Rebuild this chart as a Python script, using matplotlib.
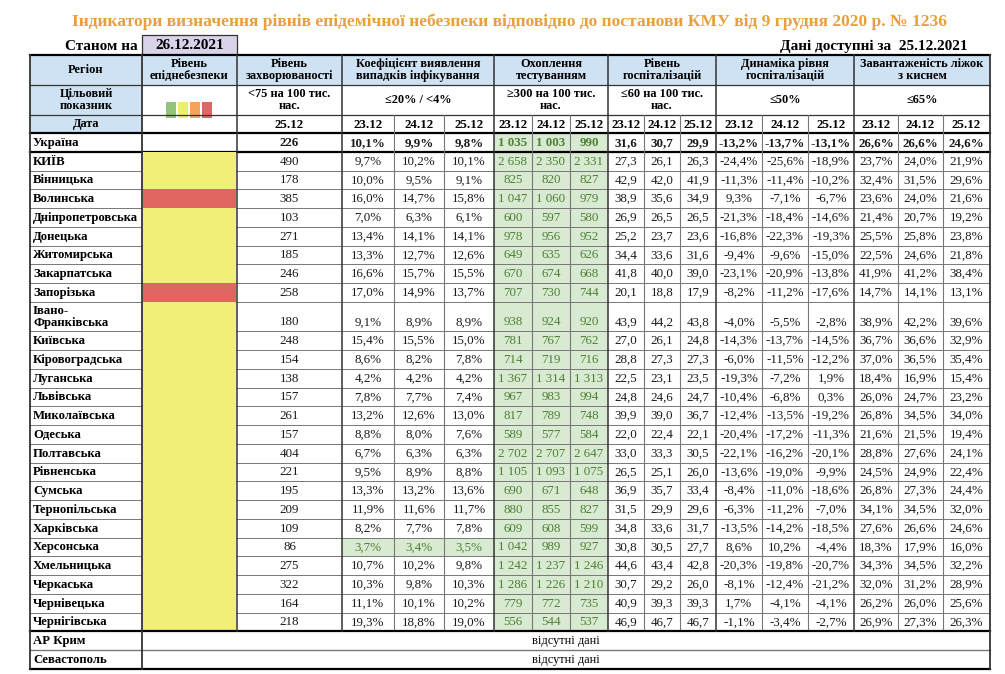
import matplotlib
matplotlib.use("Agg")
import matplotlib.pyplot as plt
from matplotlib.patches import Rectangle

plt.rcParams['font.family'] = ['Liberation Serif', 'DejaVu Serif']

regions = ["Україна", "КИЇВ", "Вінницька", "Волинська", "Дніпропетровська", "Донецька",
           "Житомирська", "Закарпатська", "Запорізька", "Івано-\nФранківська", "Київська",
           "Кіровоградська", "Луганська", "Львівська", "Миколаївська", "Одеська", "Полтавська",
           "Рівненська", "Сумська", "Тернопільська", "Харківська", "Херсонська", "Хмельницька",
           "Черкаська", "Чернівецька", "Чернігівська"]
danger = [None, "y", "y", "r", "y", "y", "y", "y", "r", "y", "y", "y", "y", "y", "y", "y",
          "y", "y", "y", "y", "y", "y", "y", "y", "y", "y"]
incidence = [226, 490, 178, 385, 103, 271, 185, 246, 258, 180, 248, 154, 138, 157, 261, 157,
             404, 221, 195, 209, 109, 86, 275, 322, 164, 218]
detect = [[10.1, 9.9, 9.8], [9.7, 10.2, 10.1], [10.0, 9.5, 9.1], [16.0, 14.7, 15.8],
          [7.0, 6.3, 6.1], [13.4, 14.1, 14.1], [13.3, 12.7, 12.6], [16.6, 15.7, 15.5],
          [17.0, 14.9, 13.7], [9.1, 8.9, 8.9], [15.4, 15.5, 15.0], [8.6, 8.2, 7.8],
          [4.2, 4.2, 4.2], [7.8, 7.7, 7.4], [13.2, 12.6, 13.0], [8.8, 8.0, 7.6],
          [6.7, 6.3, 6.3], [9.5, 8.9, 8.8], [13.3, 13.2, 13.6], [11.9, 11.6, 11.7],
          [8.2, 7.7, 7.8], [3.7, 3.4, 3.5], [10.7, 10.2, 9.8], [10.3, 9.8, 10.3],
          [11.1, 10.1, 10.2], [19.3, 18.8, 19.0]]
testing = [[1035, 1003, 990], [2658, 2350, 2331], [825, 820, 827], [1047, 1060, 979],
           [600, 597, 580], [978, 956, 952], [649, 635, 626], [670, 674, 668],
           [707, 730, 744], [938, 924, 920], [781, 767, 762], [714, 719, 716],
           [1367, 1314, 1313], [967, 983, 994], [817, 789, 748], [589, 577, 584],
           [2702, 2707, 2647], [1105, 1093, 1075], [690, 671, 648], [880, 855, 827],
           [609, 608, 599], [1042, 989, 927], [1242, 1237, 1246], [1286, 1226, 1210],
           [779, 772, 735], [556, 544, 537]]
hosp = [[31.6, 30.7, 29.9], [27.3, 26.1, 26.3], [42.9, 42.0, 41.9], [38.9, 35.6, 34.9],
        [26.9, 26.5, 26.5], [25.2, 23.7, 23.6], [34.4, 33.6, 31.6], [41.8, 40.0, 39.0],
        [20.1, 18.8, 17.9], [43.9, 44.2, 43.8], [27.0, 26.1, 24.8], [28.8, 27.3, 27.3],
        [22.5, 23.1, 23.5], [24.8, 24.6, 24.7], [39.9, 39.0, 36.7], [22.0, 22.4, 22.1],
        [33.0, 33.3, 30.5], [26.5, 25.1, 26.0], [36.9, 35.7, 33.4], [31.5, 29.9, 29.6],
        [34.8, 33.6, 31.7], [30.8, 30.5, 27.7], [44.6, 43.4, 42.8], [30.7, 29.2, 26.0],
        [40.9, 39.3, 39.3], [46.9, 46.7, 46.7]]
dynamics = [[-13.2, -13.7, -13.1], [-24.4, -25.6, -18.9], [-11.3, -11.4, -10.2],
            [9.3, -7.1, -6.7], [-21.3, -18.4, -14.6], [-16.8, -22.3, -19.3],
            [-9.4, -9.6, -15.0], [-23.1, -20.9, -13.8], [-8.2, -11.2, -17.6],
            [-4.0, -5.5, -2.8], [-14.3, -13.7, -14.5], [-6.0, -11.5, -12.2],
            [-19.3, -7.2, 1.9], [-10.4, -6.8, 0.3], [-12.4, -13.5, -19.2],
            [-20.4, -17.2, -11.3], [-22.1, -16.2, -20.1], [-13.6, -19.0, -9.9],
            [-8.4, -11.0, -18.6], [-6.3, -11.2, -7.0], [-13.5, -14.2, -18.5],
            [8.6, 10.2, -4.4], [-20.3, -19.8, -20.7], [-8.1, -12.4, -21.2],
            [1.7, -4.1, -4.1], [-1.1, -3.4, -2.7]]
beds = [[26.6, 26.6, 24.6], [23.7, 24.0, 21.9], [32.4, 31.5, 29.6], [23.6, 24.0, 21.6],
        [21.4, 20.7, 19.2], [25.5, 25.8, 23.8], [22.5, 24.6, 21.8], [41.9, 41.2, 38.4],
        [14.7, 14.1, 13.1], [38.9, 42.2, 39.6], [36.7, 36.6, 32.9], [37.0, 36.5, 35.4],
        [18.4, 16.9, 15.4], [26.0, 24.7, 23.2], [26.8, 34.5, 34.0], [21.6, 21.5, 19.4],
        [28.8, 27.6, 24.1], [24.5, 24.9, 22.4], [26.8, 27.3, 24.4], [34.1, 34.5, 32.0],
        [27.6, 26.6, 24.6], [18.3, 17.9, 16.0], [34.3, 34.5, 32.2], [32.0, 31.2, 28.9],
        [26.2, 26.0, 25.6], [26.9, 27.3, 26.3]]
missing = ["АР Крим", "Севастополь"]
dates = ["23.12", "24.12", "25.12"]

groups = ["Рівень\nзахворюваності", "Коефіцієнт виявлення\nвипадків інфікування",
          "Охоплення\nтестуванням", "Рівень\nгоспіталізацій", "Динаміка рівня\nгоспіталізацій",
          "Завантаженість ліжок\nз киснем"]
targets = ["<75 на 100 тис.\nнас.", "≤20% / <4%", "≥300 на 100 тис.\nнас.",
           "≤60 на 100 тис.\nнас.", "≤50%", "≤65%"]


def pct(v):
    return f"{v:.1f}".replace('.', ',') + '%'


def dec(v):
    return f"{v:.1f}".replace('.', ',')


def thou(v):
    return f"{v:,}".replace(',', ' ')


# layout (pixels)
col_x = [30, 142, 237, 342, 394, 444, 494, 532, 570, 608, 644, 680, 716, 762, 808,
         854, 898, 943, 990]
group_x = [237, 342, 494, 608, 716, 854, 990]
row_h = 18.75
fs = 8.9       # header text
fd = 9.4       # data text
DARK = '#333333'
GRID = '#777777'
BLUE = '#cfe2f3'
GREEN = '#d9ead3'
GREEN_TXT = '#4f7f35'
fills = {"y": '#f2ef78', "r": '#e26660'}

fig = plt.figure(figsize=(10.05, 6.74), dpi=100)
ax = fig.add_axes([0, 0, 1, 1])
ax.set_xlim(0, 1005)
ax.set_ylim(674, 0)
ax.axis('off')

# title and top line
ax.text(509, 22, "Індикатори визначення рівнів епідемічної небезпеки відповідно до постанови "
        "КМУ від 9 грудня 2020 р. № 1236", ha='center', va='center', fontsize=12.6,
        fontweight='bold', color='#e8a03c')
ax.text(138, 46, "Станом на", ha='right', va='center', fontsize=11, fontweight='bold')
ax.add_patch(Rectangle((142, 35), 95, 20, facecolor='#d9d2e9', edgecolor=DARK, lw=0.9))
ax.text(189.5, 45.5, "26.12.2021", ha='center', va='center', fontsize=11, fontweight='bold')
ax.text(968, 46, "Дані доступні за  25.12.2021", ha='right', va='center', fontsize=11,
        fontweight='bold')

# header backgrounds
ax.add_patch(Rectangle((30, 55), 960, 30, facecolor=BLUE, lw=0))
ax.add_patch(Rectangle((30, 85), 112, 48, facecolor=BLUE, lw=0))

ax.text(86, 70, "Регіон", ha='center', va='center', fontsize=fs, fontweight='bold')
ax.text(189.5, 70, "Рівень\nепіднебезпеки", ha='center', va='center', fontsize=fs,
        fontweight='bold', linespacing=1.0)
ax.text(86, 100, "Цільовий\nпоказник", ha='center', va='center', fontsize=fs,
        fontweight='bold', linespacing=1.1)
ax.text(86, 124.5, "Дата", ha='center', va='center', fontsize=fs, fontweight='bold')
for i, swatch in enumerate(['#93c47d', '#eeee6e', '#f5a35c', '#e06666']):
    ax.add_patch(Rectangle((166 + i * 12, 102), 10, 16, facecolor=swatch, lw=0))

for g in range(len(groups)):
    xc = (group_x[g] + group_x[g + 1]) / 2
    ax.text(xc, 70, groups[g], ha='center', va='center', fontsize=fs, fontweight='bold',
            linespacing=1.0)
    ax.text(xc, 100, targets[g], ha='center', va='center', fontsize=fs, fontweight='bold',
            linespacing=1.1)
ax.text((237 + 342) / 2, 124.5, "25.12", ha='center', va='center', fontsize=fd,
        fontweight='bold')
for c in range(3, 18):
    ax.text((col_x[c] + col_x[c + 1]) / 2, 124.5, dates[(c - 3) % 3], ha='center',
            va='center', fontsize=fd, fontweight='bold')

# data rows
y = 133
row_edges = [y]
for i, name in enumerate(regions):
    h = 29.5 if "\n" in name else row_h
    y0, y1 = y, y + h
    yt = y1 - row_h / 2 if "\n" in name else (y0 + y1) / 2
    w = 'bold' if i == 0 else 'normal'
    ax.text(33, (y0 + y1) / 2 + 0.5, name, ha='left', va='center', fontsize=9.2,
            fontweight='bold', linespacing=1.0)
    if danger[i]:
        ax.add_patch(Rectangle((col_x[1] + 0.6, y0), col_x[2] - col_x[1] - 1.2, h,
                               facecolor=fills[danger[i]], lw=0, zorder=3))
    cells = [thou(incidence[i])] + [pct(v) for v in detect[i]] + \
            [thou(v) for v in testing[i]] + [dec(v) for v in hosp[i]] + \
            [pct(v) for v in dynamics[i]] + [pct(v) for v in beds[i]]
    green = [False] + [v < 4 for v in detect[i]] + [v >= 300 for v in testing[i]] + \
            [False] * 9
    for k, txt in enumerate(cells):
        c = k + 2
        color = '#1a1a1a'
        if green[k]:
            ax.add_patch(Rectangle((col_x[c], y0), col_x[c + 1] - col_x[c], h,
                                   facecolor=GREEN, lw=0, zorder=0))
            color = GREEN_TXT
        ax.text((col_x[c] + col_x[c + 1]) / 2, yt + 0.5, txt, ha='center', va='center',
                fontsize=fd, fontweight=w, color=color)
    y = y1
    row_edges.append(y)

data_bottom = y
for name in missing:
    ax.text(33, y + 9.5, name, ha='left', va='center', fontsize=9.2, fontweight='bold')
    ax.text((142 + 990) / 2, y + 9.5, "відсутні дані", ha='center', va='center', fontsize=fs)
    y += 19
    row_edges.append(y)
table_bottom = y

# grid lines
for yy in row_edges[1:-3]:
    lw = 1.6 if yy == row_edges[1] else 0.7
    col = 'black' if yy == row_edges[1] else GRID
    ax.plot([30, 990], [yy, yy], color=col, lw=lw, zorder=2)
ax.plot([30, 990], [55, 55], color='black', lw=1.6, zorder=2)
ax.plot([30, 990], [85, 85], color=DARK, lw=0.9, zorder=2)
ax.plot([30, 990], [115, 115], color=DARK, lw=0.9, zorder=2)
ax.plot([30, 990], [133, 133], color='black', lw=1.6, zorder=2)
ax.plot([30, 990], [data_bottom, data_bottom], color='black', lw=1.6, zorder=4)
ax.plot([30, 990], [row_edges[-2], row_edges[-2]], color=GRID, lw=1.0, zorder=2)
ax.plot([30, 990], [table_bottom, table_bottom], color='black', lw=1.6, zorder=2)

for xx in [30, 142, 990]:
    ax.plot([xx, xx], [55, table_bottom], color=DARK, lw=1.3, zorder=4)
for xx in group_x[:-1]:
    ax.plot([xx, xx], [55, data_bottom], color=DARK, lw=1.1, zorder=4)
for c in range(4, 18):
    if col_x[c] not in group_x:
        ax.plot([col_x[c], col_x[c]], [115, data_bottom], color=GRID, lw=0.8, zorder=2)

fig.savefig("out.png", dpi=100)
